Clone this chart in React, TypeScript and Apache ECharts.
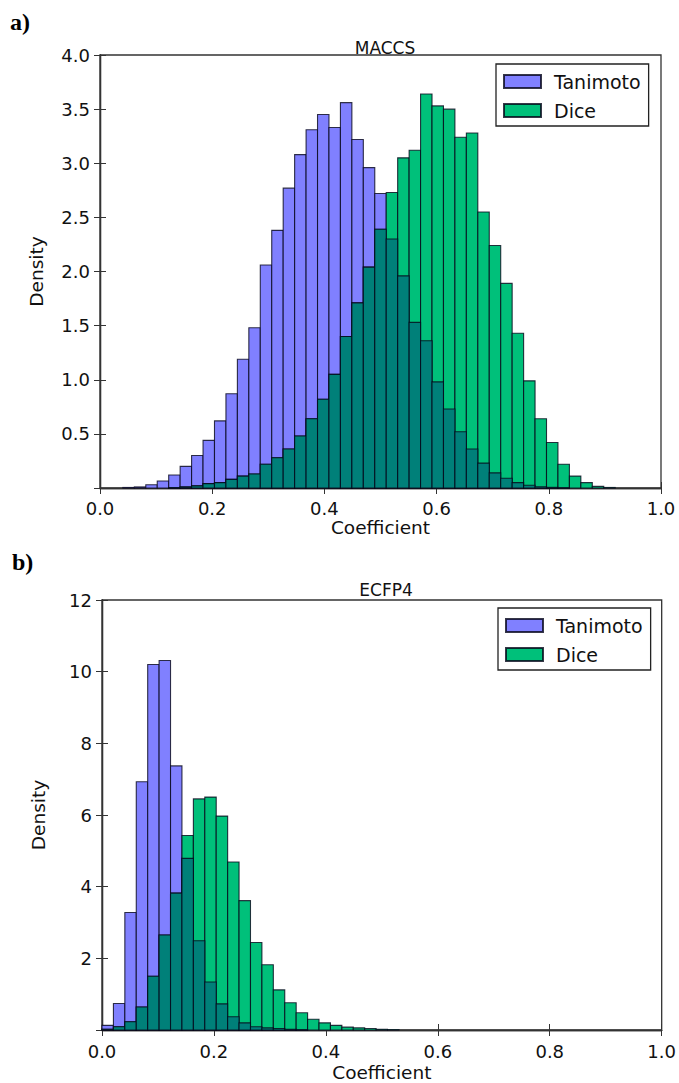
import React, { useEffect, useRef } from 'react';
import * as echarts from 'echarts';

// 49 equal-width bins between 0 and 1
const BIN_COUNT = 49;
const X_TICKS = ['0.0', '0.2', '0.4', '0.6', '0.8', '1.0'];
const SERIES_NAMES = ['Tanimoto', 'Dice'];

// MACCS densities per bin
const maccsTanimoto = [
  0, 0, 0.005, 0.01, 0.03, 0.065, 0.12, 0.2, 0.3, 0.44,
  0.62, 0.87, 1.19, 1.48, 2.06, 2.38, 2.77, 3.08, 3.31, 3.45,
  3.33, 3.56, 3.22, 2.96, 2.72, 2.3, 1.96, 1.53, 1.36, 0.98,
  0.73, 0.52, 0.36, 0.23, 0.14, 0.09, 0.05, 0.025, 0.012, 0.006,
  0.003, 0, 0, 0, 0, 0, 0, 0, 0,
];
const maccsDice = [
  0, 0, 0, 0, 0, 0, 0.003, 0.01, 0.02, 0.04,
  0.05, 0.08, 0.11, 0.13, 0.22, 0.28, 0.36, 0.48, 0.64, 0.82,
  1.05, 1.4, 1.71, 2.04, 2.39, 2.73, 3.05, 3.12, 3.64, 3.53,
  3.5, 3.24, 3.28, 2.55, 2.24, 1.89, 1.43, 0.99, 0.64, 0.42,
  0.22, 0.11, 0.05, 0.015, 0.005, 0, 0, 0, 0,
];

// ECFP4 densities per bin
const ecfpTanimoto = [
  0.13, 0.74, 3.28, 6.93, 10.2, 10.31, 7.37, 4.79, 2.49, 1.34,
  0.73, 0.37, 0.2, 0.09, 0.06, 0.04, 0.02, 0.01, 0, 0,
  0, 0, 0, 0, 0, 0, 0, 0, 0, 0,
  0, 0, 0, 0, 0, 0, 0, 0, 0, 0,
  0, 0, 0, 0, 0, 0, 0, 0, 0,
];
const ecfpDice = [
  0.02, 0.09, 0.23, 0.64, 1.5, 2.65, 3.82, 5.43, 6.45, 6.5,
  5.97, 4.69, 3.61, 2.44, 1.82, 1.12, 0.76, 0.48, 0.3, 0.2,
  0.13, 0.08, 0.06, 0.04, 0.02, 0.01, 0, 0, 0, 0,
  0, 0, 0, 0, 0, 0, 0, 0, 0, 0,
  0, 0, 0, 0, 0, 0, 0, 0, 0,
];

const BLUE = '#8080ff';
const GREEN = '#00c07a';
const TEAL = '#008079';
const EDGE = 'rgba(5,5,25,0.8)';
const FRAME = '#333';
const FONT = '"DejaVu Sans", sans-serif';

function makeData(values: number[]) {
  return values.map((v, k) => [k / BIN_COUNT, (k + 1) / BIN_COUNT, v]);
}
function overlap(a: number[], b: number[]) {
  return a.map((v, i) => Math.min(v, b[i]));
}

const renderBar = (_params: any, api: any) => {
  const h = api.value(2);
  if (!(h > 0)) return null;
  const p0 = api.coord([api.value(0), h]);
  const p1 = api.coord([api.value(1), 0]);
  return {
    type: 'rect',
    shape: { x: p0[0], y: p0[1], width: p1[0] - p0[0], height: p1[1] - p0[1] },
    style: { fill: api.visual('color'), stroke: EDGE, lineWidth: 1.1 },
  };
};

function barSeries(name: string, color: string, values: number[], axisIndex: number) {
  return {
    type: 'custom',
    name,
    xAxisIndex: axisIndex * 2,
    yAxisIndex: axisIndex * 2,
    renderItem: renderBar,
    itemStyle: { color, borderColor: EDGE, borderWidth: 1 },
    encode: { x: [0, 1], y: 2 },
    data: makeData(values),
    silent: true,
  };
}

function xAxes(gridIndex: number, margin: number, nameGap: number) {
  const tick = { show: true, inside: true, length: 6, lineStyle: { color: FRAME, width: 1 } };
  return [
    {
      type: 'value', gridIndex, min: 0, max: 1, interval: 0.2, position: 'bottom',
      axisLine: { show: true, lineStyle: { color: FRAME, width: 1.3 } },
      axisTick: tick, splitLine: { show: false },
      axisLabel: {
        color: '#111', fontSize: 18, fontFamily: FONT, margin,
        formatter: (v: number) => X_TICKS[Math.round(v / 0.2)] ?? '',
      },
      name: 'Coefficient', nameLocation: 'middle', nameGap,
      nameTextStyle: { color: '#111', fontSize: 18.5, fontFamily: FONT },
    },
    {
      type: 'value', gridIndex, min: 0, max: 1, interval: 0.2, position: 'top',
      axisLine: { show: true, lineStyle: { color: FRAME, width: 1.3 } },
      axisTick: tick, axisLabel: { show: false }, splitLine: { show: false },
    },
  ];
}

function yAxes(gridIndex: number, max: number, interval: number, decimals: number) {
  const tick = { show: true, inside: true, length: 6, lineStyle: { color: FRAME, width: 1 } };
  return [
    {
      type: 'value', gridIndex, min: 0, max, interval, position: 'left',
      axisLine: { show: true, lineStyle: { color: FRAME, width: 1.3 } },
      axisTick: tick, splitLine: { show: false },
      axisLabel: {
        color: '#111', fontSize: 18, fontFamily: FONT, margin: 10,
        formatter: (v: number) => (v === 0 ? '' : v.toFixed(decimals)),
      },
      name: 'Density', nameLocation: 'middle', nameGap: 54,
      nameTextStyle: { color: '#111', fontSize: 18.5, fontFamily: FONT },
    },
    {
      type: 'value', gridIndex, min: 0, max, interval, position: 'right',
      axisLine: { show: true, lineStyle: { color: FRAME, width: 1.3 } },
      axisTick: tick, axisLabel: { show: false }, splitLine: { show: false },
    },
  ];
}

function legend(left: number, top: number) {
  return {
    left, top, orient: 'vertical',
    data: SERIES_NAMES,
    icon: 'rect', itemWidth: 37, itemHeight: 13, itemGap: 10,
    padding: [8, 8, 6, 7],
    borderColor: '#222', borderWidth: 1.3, borderRadius: 0,
    backgroundColor: '#fff',
    selectedMode: false,
    textStyle: { color: '#111', fontSize: 19, fontFamily: FONT, lineHeight: 18, padding: [0, 0, 0, 8] },
  };
}

export default function App() {
  const ref = useRef<HTMLDivElement>(null);
  useEffect(() => {
    if (!ref.current) return;
    const chart = echarts.init(ref.current, undefined, { renderer: 'svg' });
    chart.setOption({
      animation: false,
      backgroundColor: '#fff',
      title: [
        { text: 'MACCS', left: 380, top: 34, textAlign: 'center',
          textStyle: { fontSize: 17, fontWeight: 'normal', color: '#111', fontFamily: FONT } },
        { text: 'ECFP4', left: 381, top: 576, textAlign: 'center',
          textStyle: { fontSize: 17, fontWeight: 'normal', color: '#111', fontFamily: FONT } },
      ],
      grid: [
        { left: 100, top: 55, width: 561, height: 433, show: true, borderColor: FRAME, borderWidth: 1.3, backgroundColor: '#fff' },
        { left: 102, top: 600, width: 560, height: 432, show: true, borderColor: FRAME, borderWidth: 1.3, backgroundColor: '#fff' },
      ],
      xAxis: [...xAxes(0, 11, 25), ...xAxes(1, 12, 33)],
      yAxis: [...yAxes(0, 4, 0.5, 1), ...yAxes(1, 12, 2, 0)],
      legend: [legend(496, 64), legend(498, 608)],
      graphic: [
        { type: 'text', left: 10, top: 10, style: { text: 'a)', font: 'bold 24px "Liberation Serif", serif', fill: '#000' } },
        { type: 'text', left: 12, top: 550, style: { text: 'b)', font: 'bold 24px "Liberation Serif", serif', fill: '#000' } },
      ],
      series: [
        barSeries('Tanimoto', BLUE, maccsTanimoto, 0),
        barSeries('Dice', GREEN, maccsDice, 0),
        barSeries('overlap', TEAL, overlap(maccsTanimoto, maccsDice), 0),
        barSeries('Tanimoto', BLUE, ecfpTanimoto, 1),
        barSeries('Dice', GREEN, ecfpDice, 1),
        barSeries('overlap', TEAL, overlap(ecfpTanimoto, ecfpDice), 1),
      ],
    });
    return () => chart.dispose();
  }, []);
  return (
    <div
      ref={ref}
      style={{ position: 'fixed', left: 0, top: 0, width: 679, height: 1083, background: '#fff' }}
    />
  );
}
